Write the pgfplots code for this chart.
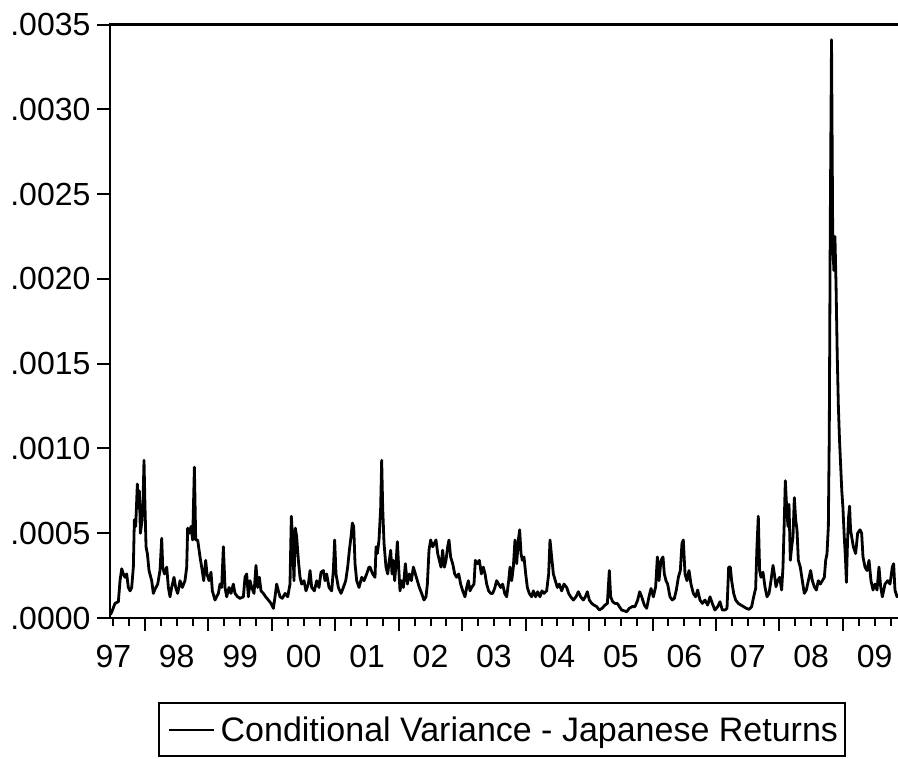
\documentclass[border=0pt]{standalone}
\usepackage{fontspec}
\setmainfont{Liberation Sans}
\usepackage{pgfplots}
\usepackage{pgfplotstable}
\pgfplotsset{compat=1.18}

\pgfplotstableread{
x y
1997.455 0.2e-4
1997.475 0.35e-4
1997.527 0.86e-4
1997.580 0.96e-4
1997.606 2.2e-4
1997.632 2.9e-4
1997.659 2.6e-4
1997.685 2.4e-4
1997.711 2.6e-4
1997.737 1.8e-4
1997.764 1.6e-4
1997.790 1.8e-4
1997.816 3.0e-4
1997.832 5.8e-4
1997.853 5.4e-4
1997.879 7.9e-4
1997.895 6.5e-4
1997.911 7.5e-4
1997.927 5.0e-4
1997.948 5.6e-4
1997.969 6.9e-4
1997.984 9.3e-4
1998.000 6.5e-4
1998.016 4.2e-4
1998.037 3.8e-4
1998.063 2.8e-4
1998.105 2.2e-4
1998.131 1.45e-4
1998.158 1.7e-4
1998.200 2.0e-4
1998.236 2.8e-4
1998.263 4.7e-4
1998.279 3.0e-4
1998.305 2.6e-4
1998.342 3.0e-4
1998.368 1.8e-4
1998.394 1.25e-4
1998.420 1.8e-4
1998.457 2.4e-4
1998.483 1.8e-4
1998.515 1.45e-4
1998.552 2.2e-4
1998.588 1.8e-4
1998.630 2.2e-4
1998.657 3.0e-4
1998.672 5.3e-4
1998.699 5.0e-4
1998.725 5.4e-4
1998.751 4.6e-4
1998.778 8.9e-4
1998.799 4.6e-4
1998.830 4.6e-4
1998.867 3.6e-4
1998.893 3.0e-4
1998.925 2.2e-4
1998.956 3.4e-4
1998.977 2.6e-4
1999.009 2.2e-4
1999.040 2.7e-4
1999.061 1.6e-4
1999.103 1.06e-4
1999.156 1.45e-4
1999.182 2.0e-4
1999.208 1.8e-4
1999.235 4.2e-4
1999.261 1.8e-4
1999.287 1.25e-4
1999.324 1.8e-4
1999.355 1.45e-4
1999.392 2.0e-4
1999.418 1.45e-4
1999.460 1.25e-4
1999.497 1.16e-4
1999.550 1.25e-4
1999.576 2.4e-4
1999.602 2.6e-4
1999.629 1.25e-4
1999.655 2.2e-4
1999.681 1.8e-4
1999.718 1.45e-4
1999.749 3.1e-4
1999.776 1.8e-4
1999.802 2.4e-4
1999.828 1.6e-4
1999.865 1.45e-4
1999.902 1.25e-4
1999.944 1.06e-4
1999.986 0.86e-4
2000.023 0.57e-4
2000.049 1.25e-4
2000.075 2.0e-4
2000.102 1.6e-4
2000.128 1.25e-4
2000.164 1.16e-4
2000.207 1.45e-4
2000.249 1.25e-4
2000.285 2.0e-4
2000.306 6.0e-4
2000.327 4.6e-4
2000.348 2.2e-4
2000.369 5.3e-4
2000.390 4.8e-4
2000.417 3.4e-4
2000.443 2.4e-4
2000.469 2.0e-4
2000.506 2.2e-4
2000.537 1.6e-4
2000.574 2.0e-4
2000.601 2.8e-4
2000.627 1.8e-4
2000.669 1.6e-4
2000.706 2.2e-4
2000.742 1.8e-4
2000.774 2.7e-4
2000.811 2.8e-4
2000.837 2.2e-4
2000.863 2.6e-4
2000.900 1.8e-4
2000.942 1.6e-4
2000.968 2.8e-4
2000.989 4.6e-4
2001.010 2.6e-4
2001.047 1.8e-4
2001.089 1.45e-4
2001.126 1.8e-4
2001.163 2.2e-4
2001.194 3.0e-4
2001.221 4.0e-4
2001.247 4.8e-4
2001.268 5.6e-4
2001.289 5.4e-4
2001.310 3.2e-4
2001.336 2.2e-4
2001.373 1.8e-4
2001.415 2.4e-4
2001.452 2.2e-4
2001.494 2.6e-4
2001.530 3.0e-4
2001.546 3.0e-4
2001.588 2.6e-4
2001.625 2.4e-4
2001.641 4.2e-4
2001.662 3.8e-4
2001.688 4.6e-4
2001.714 6.5e-4
2001.730 9.3e-4
2001.746 6.5e-4
2001.767 4.4e-4
2001.798 3.0e-4
2001.825 2.6e-4
2001.851 3.4e-4
2001.872 4.0e-4
2001.893 2.6e-4
2001.914 3.4e-4
2001.935 2.2e-4
2001.956 3.2e-4
2001.977 4.5e-4
2001.998 3.0e-4
2002.019 1.6e-4
2002.045 2.2e-4
2002.072 1.8e-4
2002.103 3.2e-4
2002.135 2.0e-4
2002.166 2.6e-4
2002.198 2.2e-4
2002.229 3.0e-4
2002.261 2.6e-4
2002.292 2.2e-4
2002.324 1.8e-4
2002.360 1.45e-4
2002.397 1.06e-4
2002.429 1.25e-4
2002.450 2.0e-4
2002.476 4.0e-4
2002.502 4.6e-4
2002.534 4.2e-4
2002.560 4.4e-4
2002.586 4.6e-4
2002.613 3.8e-4
2002.639 3.4e-4
2002.665 3.0e-4
2002.691 4.0e-4
2002.718 3.0e-4
2002.744 3.4e-4
2002.770 4.2e-4
2002.791 4.6e-4
2002.817 3.6e-4
2002.849 3.2e-4
2002.881 2.6e-4
2002.912 2.4e-4
2002.944 2.6e-4
2002.975 2.0e-4
2003.007 1.6e-4
2003.043 1.25e-4
2003.070 1.8e-4
2003.096 2.2e-4
2003.122 1.6e-4
2003.148 1.8e-4
2003.185 2.0e-4
2003.206 3.4e-4
2003.238 3.2e-4
2003.269 3.4e-4
2003.301 2.6e-4
2003.332 3.0e-4
2003.359 2.6e-4
2003.385 2.0e-4
2003.416 1.6e-4
2003.448 1.45e-4
2003.479 1.45e-4
2003.511 1.75e-4
2003.542 2.2e-4
2003.574 2.0e-4
2003.606 1.8e-4
2003.637 2.0e-4
2003.669 1.45e-4
2003.700 1.25e-4
2003.732 2.2e-4
2003.753 3.0e-4
2003.779 2.2e-4
2003.805 3.0e-4
2003.831 4.6e-4
2003.858 3.2e-4
2003.884 4.6e-4
2003.905 5.2e-4
2003.926 3.8e-4
2003.947 3.4e-4
2003.973 3.6e-4
2004.000 2.6e-4
2004.026 1.8e-4
2004.057 1.45e-4
2004.094 1.25e-4
2004.120 1.6e-4
2004.157 1.25e-4
2004.189 1.55e-4
2004.225 1.25e-4
2004.257 1.6e-4
2004.288 1.45e-4
2004.330 1.6e-4
2004.362 2.6e-4
2004.383 4.6e-4
2004.409 3.6e-4
2004.436 2.6e-4
2004.467 2.2e-4
2004.499 1.8e-4
2004.530 2.0e-4
2004.567 1.6e-4
2004.604 2.0e-4
2004.646 1.8e-4
2004.677 1.45e-4
2004.709 1.25e-4
2004.751 1.06e-4
2004.793 1.25e-4
2004.830 1.55e-4
2004.866 1.25e-4
2004.908 1.06e-4
2004.940 1.25e-4
2004.971 1.55e-4
2005.003 1.06e-4
2005.040 0.86e-4
2005.077 0.76e-4
2005.119 0.67e-4
2005.161 0.47e-4
2005.203 0.57e-4
2005.250 0.76e-4
2005.287 0.86e-4
2005.318 2.8e-4
2005.339 1.25e-4
2005.371 0.96e-4
2005.407 0.86e-4
2005.444 0.86e-4
2005.476 0.67e-4
2005.512 0.47e-4
2005.549 0.43e-4
2005.591 0.37e-4
2005.633 0.57e-4
2005.676 0.67e-4
2005.723 0.67e-4
2005.765 1.06e-4
2005.796 1.55e-4
2005.828 1.25e-4
2005.870 0.76e-4
2005.907 0.57e-4
2005.943 1.25e-4
2005.975 1.74e-4
2006.012 1.25e-4
2006.048 1.84e-4
2006.075 3.6e-4
2006.101 2.2e-4
2006.132 3.4e-4
2006.164 3.6e-4
2006.185 2.6e-4
2006.211 2.2e-4
2006.237 2.0e-4
2006.274 1.25e-4
2006.311 1.06e-4
2006.343 1.16e-4
2006.374 1.65e-4
2006.406 2.4e-4
2006.437 2.8e-4
2006.463 4.4e-4
2006.484 4.6e-4
2006.511 2.6e-4
2006.542 2.2e-4
2006.574 2.8e-4
2006.605 2.0e-4
2006.642 1.45e-4
2006.679 1.25e-4
2006.710 1.65e-4
2006.747 1.06e-4
2006.784 0.86e-4
2006.826 1.06e-4
2006.868 0.76e-4
2006.905 1.25e-4
2006.941 0.86e-4
2006.983 0.47e-4
2007.026 0.67e-4
2007.062 0.96e-4
2007.099 0.47e-4
2007.141 0.47e-4
2007.173 0.57e-4
2007.199 3.0e-4
2007.225 3.0e-4
2007.246 2.2e-4
2007.278 1.45e-4
2007.309 1.06e-4
2007.351 0.86e-4
2007.393 0.76e-4
2007.435 0.67e-4
2007.477 0.57e-4
2007.519 0.51e-4
2007.561 0.67e-4
2007.593 1.25e-4
2007.624 1.74e-4
2007.645 4.2e-4
2007.666 6.0e-4
2007.687 2.8e-4
2007.708 2.4e-4
2007.740 2.7e-4
2007.771 1.84e-4
2007.803 1.25e-4
2007.835 1.45e-4
2007.866 2.2e-4
2007.898 3.1e-4
2007.919 2.6e-4
2007.945 1.84e-4
2007.971 2.2e-4
2008.003 2.4e-4
2008.034 1.65e-4
2008.055 3.0e-4
2008.076 5.8e-4
2008.092 8.1e-4
2008.113 6.5e-4
2008.134 5.4e-4
2008.150 6.7e-4
2008.171 3.4e-4
2008.192 4.2e-4
2008.213 4.8e-4
2008.234 7.1e-4
2008.255 5.8e-4
2008.276 5.2e-4
2008.297 3.4e-4
2008.328 3.0e-4
2008.360 2.2e-4
2008.391 1.45e-4
2008.423 1.65e-4
2008.455 2.2e-4
2008.491 2.8e-4
2008.518 2.2e-4
2008.549 1.84e-4
2008.581 1.65e-4
2008.612 2.2e-4
2008.644 2.0e-4
2008.675 2.2e-4
2008.707 2.4e-4
2008.728 3.4e-4
2008.749 3.8e-4
2008.770 5.4e-4
2008.785 11.0e-4
2008.800 23.0e-4
2008.820 34.1e-4
2008.838 23.0e-4
2008.856 20.5e-4
2008.874 22.5e-4
2008.892 19.5e-4
2008.910 15.5e-4
2008.928 12.5e-4
2008.946 10.5e-4
2008.964 9.0e-4
2008.982 7.5e-4
2009.000 6.5e-4
2009.018 5.0e-4
2009.040 3.5e-4
2009.055 2.1e-4
2009.072 4.5e-4
2009.090 6.0e-4
2009.105 6.6e-4
2009.120 5.2e-4
2009.164 4.2e-4
2009.200 3.8e-4
2009.232 5.0e-4
2009.269 5.2e-4
2009.295 5.0e-4
2009.316 3.6e-4
2009.348 3.0e-4
2009.379 2.8e-4
2009.411 3.4e-4
2009.442 2.2e-4
2009.474 1.65e-4
2009.505 2.0e-4
2009.537 1.65e-4
2009.568 3.0e-4
2009.595 1.84e-4
2009.621 1.25e-4
2009.663 2.0e-4
2009.705 2.2e-4
2009.742 2.0e-4
2009.778 3.0e-4
2009.799 3.2e-4
2009.820 1.65e-4
2009.852 1.25e-4
2009.875 1.4e-4
}\cvdata

\begin{document}
\begin{tikzpicture}
\begin{axis}[
  name=ax,
  at={(0pt,0pt)}, anchor=south west,
  scale only axis,
  width=591pt, height=445.1pt,
  xmin=1997.448, xmax=2009.868,
  ymin=0, ymax=0.0035,
  axis line style={draw=none},
  tick align=outside,
  tick pos=left,
  every tick/.style={black, line width=1.5pt},
  major tick length=9.5pt,
  minor tick length=6pt,
  xtick={1998,1999,2000,2001,2002,2003,2004,2005,2006,2007,2008,2009},
  xticklabels={},
  minor xtick={1997.5,1997.75,1998.25,1998.5,1998.75,1999.25,1999.5,1999.75,2000.25,2000.5,2000.75,2001.25,2001.5,2001.75,2002.25,2002.5,2002.75,2003.25,2003.5,2003.75,2004.25,2004.5,2004.75,2005.25,2005.5,2005.75,2006.25,2006.5,2006.75,2007.25,2007.5,2007.75,2008.25,2008.5,2008.75,2009.25,2009.5,2009.75},
  extra x ticks={1997.5,1998.5,1999.5,2000.5,2001.5,2002.5,2003.5,2004.5,2005.5,2006.5,2007.5,2008.5,2009.5},
  extra x tick labels={97,98,99,00,01,02,03,04,05,06,07,08,09},
  extra x tick style={major tick length=0pt, xticklabel style={yshift=-14.5pt}},
  ytick={0,0.0005,0.001,0.0015,0.002,0.0025,0.003,0.0035},
  yticklabels={.0000,.0005,.0010,.0015,.0020,.0025,.0030,.0035},
  scaled y ticks=false,
  tick label style={font=\fontsize{24pt}{28pt}\selectfont},
  yticklabel style={inner xsep=5pt},
  xticklabel style={inner ysep=6pt},
  legend style={
    at={(axis description cs:0.0609,-0.1415)}, anchor=north west,
    draw=black, line width=1.6pt, inner xsep=1pt, inner ysep=2.5pt,
    nodes={inner xsep=4pt, inner ysep=7.5pt},
    font=\fontsize{25.5pt}{30pt}\selectfont,
  },
  legend image code/.code={\path (0pt,0pt); \draw[black, line width=1.3pt] (5.5pt,0pt) -- (39.5pt,0pt);},
]
\addplot[black, line width=2.1pt, line join=round] table[x=x, y=y] {\cvdata};
\addlegendentry{Conditional Variance - Japanese Returns}
\end{axis}
\draw[line width=2pt] (ax.north east) -- (ax.north west) -- (ax.south west) -- (ax.south east);
\pgfresetboundingbox
\useasboundingbox (-82.5pt,-105.75pt) rectangle (591pt,463.5pt);
\end{tikzpicture}
\end{document}
